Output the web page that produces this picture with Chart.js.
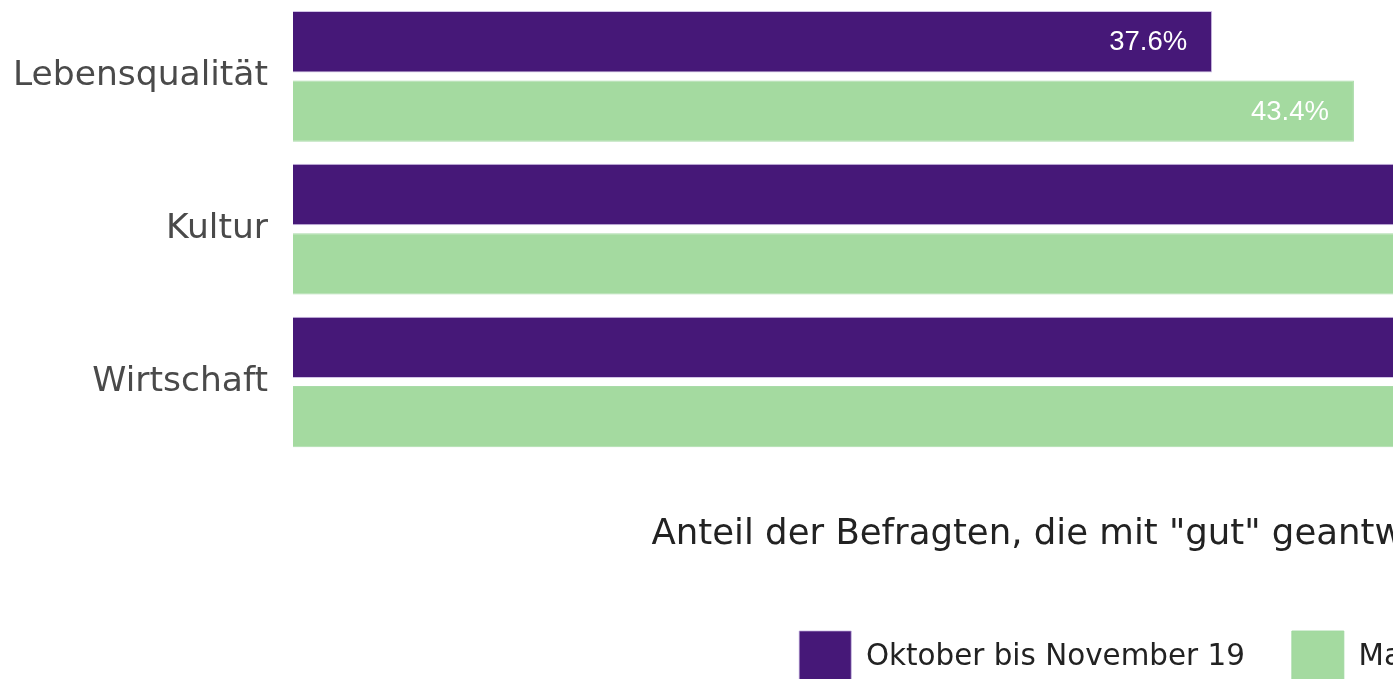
<!DOCTYPE html>
<html>
<head>
<meta charset="utf-8">
<script src="https://cdn.jsdelivr.net/npm/chart.js@4.4.0/dist/chart.umd.min.js"></script>
<style>
  html, body { margin: 0; padding: 0; background: #fff; overflow: hidden; }
  #wrap { width: 2256px; height: 693px; }
</style>
</head>
<body>
<div id="wrap"><canvas id="barChart" width="2256" height="693"></canvas></div>
<script>
// categories and series
var categories = ["Lebensqualität", "Kultur", "Wirtschaft"];
var seriesNames = ["Oktober bis November 19", "Mai 20"];
var okt19 = [37.6, 62.4, 56.9];
var mai20 = [43.4, 66.1, 58.3];
var axisTitle = 'Anteil der Befragten, die mit "gut" geantwortet haben (Angaben in %)';

var purple = "#461878";
var green = "#a4daa0";
var fontName = "'DejaVu Sans', sans-serif";

// draw the value labels inside the end of each bar
var valueLabels = {
    id: "valueLabels",
    afterDatasetsDraw: function (chart) {
        var ctx = chart.ctx;
        ctx.save();
        ctx.font = "27.5px 'Liberation Sans', Arial, sans-serif";
        ctx.fillStyle = "#ffffff";
        ctx.textAlign = "right";
        ctx.textBaseline = "middle";
        chart.data.datasets.forEach(function (ds, i) {
            chart.getDatasetMeta(i).data.forEach(function (bar, j) {
                ctx.fillText(ds.data[j].toFixed(1) + "%", bar.x - 25, bar.y + 1);
            });
        });
        ctx.restore();
    },
};

var chartData = {
    labels: categories,
    datasets: [
        {
            label: seriesNames[0],
            data: okt19,
            backgroundColor: purple,
            borderColor: "rgba(190,170,220,0.7)",
            borderWidth: 1,
        },
        {
            label: seriesNames[1],
            data: mai20,
            backgroundColor: green,
            borderColor: "rgba(160,215,160,0.9)",
            borderWidth: 1,
        },
    ],
};

new Chart(document.getElementById("barChart"), {
    type: "bar",
    data: chartData,
    plugins: [valueLabels],
    options: {
        indexAxis: "y",
        responsive: false,
        animation: false,
        categoryPercentage: 0.908,
        barPercentage: 0.884,
        layout: { padding: 0 },
        scales: {
            x: {
                min: 0,
                max: 80.3,
                grid: { display: false },
                border: { display: false },
                ticks: { display: false },
                title: {
                    display: true,
                    text: axisTitle,
                    color: "#222",
                    font: { family: fontName, size: 35.5 },
                    padding: { top: 47, bottom: 28 },
                },
            },
            y: {
                grid: { display: false, drawTicks: false },
                border: { display: false },
                ticks: {
                    color: "#4a4a4a",
                    padding: 25,
                    font: { family: fontName, size: 34.5 },
                },
                afterFit: function (scale) {
                    scale.width = 293;
                    scale.paddingTop = 0;
                    scale.paddingBottom = 0;
                },
            },
        },
        plugins: {
            tooltip: { enabled: false },
            legend: {
                position: "bottom",
                labels: {
                    boxWidth: 52,
                    boxHeight: 52,
                    padding: 47,
                    color: "#222",
                    font: { family: fontName, size: 29.4 },
                },
            },
        },
    },
});
</script>
</body>
</html>
